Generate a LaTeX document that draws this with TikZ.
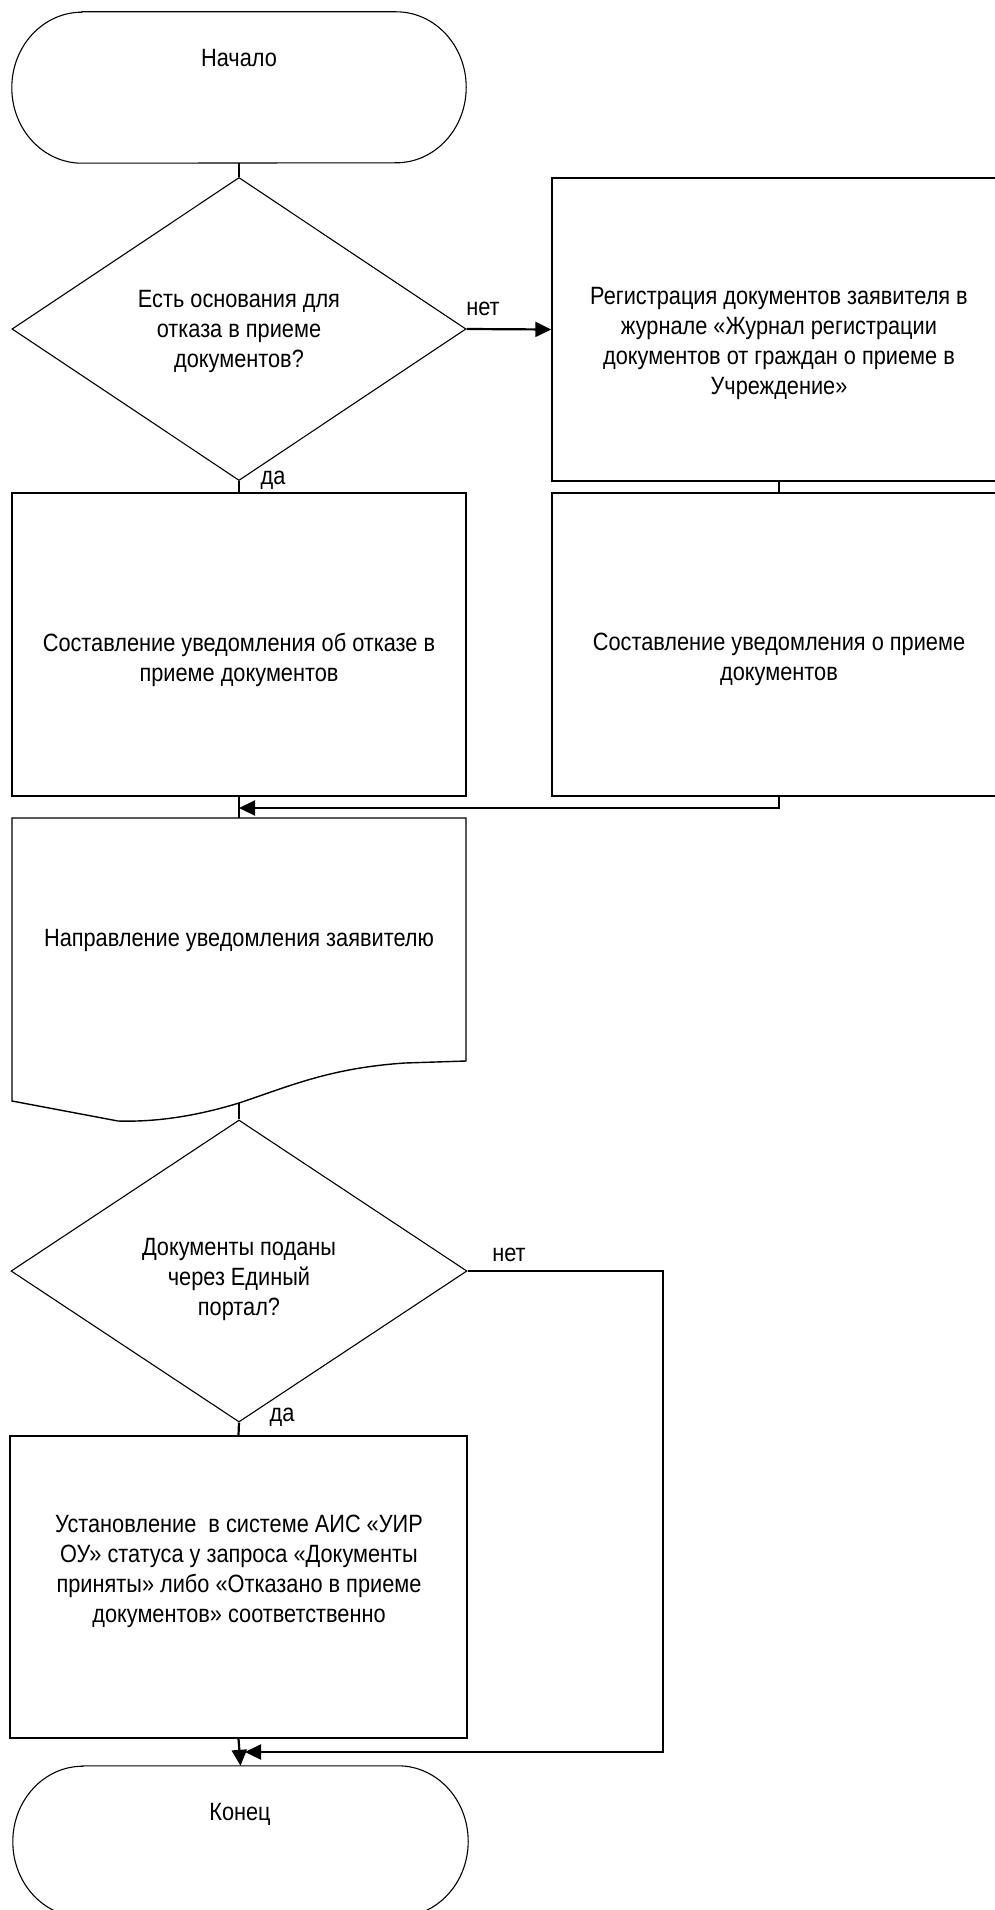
\documentclass[tikz,border=0pt]{standalone}
\usepackage{fontspec}
\setmainfont{Liberation Sans}[FakeStretch=0.87]
\usetikzlibrary{arrows.meta,shapes.geometric}
\begin{document}
\begin{tikzpicture}[x=1pt,y=-1pt,
  shapeline/.style={draw=black,line width=1.4pt},
  thinline/.style={draw=black,line width=1.1pt},
  conn/.style={draw=black,line width=2.2pt},
  arr/.style={conn,-{Triangle[length=16pt,width=15pt]}},
  boxnode/.style={shapeline,rectangle,inner sep=0pt,minimum width=454pt,minimum height=303pt},
  ghost/.style={rectangle,inner sep=0pt,minimum width=454pt,minimum height=151pt},
  decnode/.style={thinline,diamond,inner sep=0pt,minimum width=454pt,minimum height=303pt},
  txt/.style={align=center,inner sep=0pt,font=\fontsize{25}{30}\selectfont},
  lbl/.style={inner sep=0pt,font=\fontsize{25}{30}\selectfont}]
\useasboundingbox (0,0) rectangle (995,1910);

% start terminator
\node[ghost] (start) at (239,87.5) {};
\draw[thinline] ([xshift=70pt]start.north west) -- ([xshift=-70pt]start.north east)
  arc[start angle=90,end angle=-90,x radius=70pt,y radius=75.5pt]
  -- ([xshift=70pt]start.south west)
  arc[start angle=270,end angle=90,x radius=70pt,y radius=75.5pt] -- cycle;
\node[txt] (tstart) at (239,58) {Начало};

% decision 1
\node[decnode] (d1) at (239,329) {};
\node[txt] (td1) at (239,331) {Есть основания для\\отказа в приеме\\документов?};

% register box
\node[boxnode] (r1) at (779,329.5) {};
\node[txt] (tr1) at (779,343) {Регистрация документов заявителя в\\журнале «Журнал регистрации\\документов от граждан о приеме в\\Учреждение»};

% refusal notice
\node[boxnode] (l1) at (239,644.5) {};
\node[txt] (tl1) at (239,660) {Составление уведомления об отказе в\\приеме документов};

% acceptance notice
\node[boxnode] (r2) at (779,644.5) {};
\node[txt] (tr2) at (779,659) {Составление уведомления о приеме\\документов};

% document shape
\node[rectangle,inner sep=0pt,minimum width=454pt,minimum height=285pt] (doc) at (239,960.5) {};
\draw[shapeline] (466,1061) -- (405,1063)
  .. controls (330,1068) and (290,1086) .. (239,1103)
  .. controls (190,1118) and (150,1122) .. (118,1121)
  -- (12,1101) -- (12,818) -- (466,818) -- cycle;
\coordinate (docb) at (239,1103);
\node[txt] (tdoc) at (239,940) {Направление уведомления заявителю};

% decision 2
\node[decnode,minimum width=456pt,minimum height=302pt] (d2) at (239,1271) {};
\node[txt] (td2) at (239,1279) {Документы поданы\\через Единый\\портал?};

% status box
\node[boxnode,minimum width=457pt,minimum height=302pt] (l3) at (238.5,1587) {};
\node[txt] (tl3) at (239,1571) {Установление~ в системе АИС «УИР\\ОУ» статуса у запроса «Документы\\приняты» либо «Отказано в приеме\\документов» соответственно};

% end terminator
\node[ghost,minimum width=455pt] (end) at (240.5,1841.5) {};
\draw[thinline] ([xshift=70pt]end.north west) -- ([xshift=-70pt]end.north east)
  arc[start angle=90,end angle=-90,x radius=70pt,y radius=75.5pt]
  -- ([xshift=70pt]end.south west)
  arc[start angle=270,end angle=90,x radius=70pt,y radius=75.5pt] -- cycle;
\node[txt] (tend) at (240,1814) {Конец};

% labels
\node[lbl] (no1) at (483,309) {нет};
\node[lbl] (yes1) at (273,480) {да};
\node[lbl] (no2) at (509,1255) {нет};
\node[lbl] (yes2) at (282,1417) {да};

% junction coordinates
\coordinate (j1a) at (779,808);
\coordinate (j1) at (239,808);
\coordinate (c2a) at (663,1271);
\coordinate (c2b) at (663,1752);
\coordinate (j2) at (245,1752);

% connectors
\draw[conn] (start.south) -- (d1.north);
\draw[arr] (d1.east) -- (r1.west);
\draw[conn] (d1.south) -- (l1.north);
\draw[shapeline] (r1.south) -- (r2.north);
\draw[arr] (r2.south) -- (j1a) -- (j1);
\draw[conn] (l1.south) -- (doc.north);
\draw[conn] (docb) -- (d2.north);
\draw[conn] (d2.south) -- (l3.north);
\draw[arr] (d2.east) -- (c2a) -- (c2b) -- (j2);
\draw[arr] (l3.south) -- (end.north);
\end{tikzpicture}
\end{document}
